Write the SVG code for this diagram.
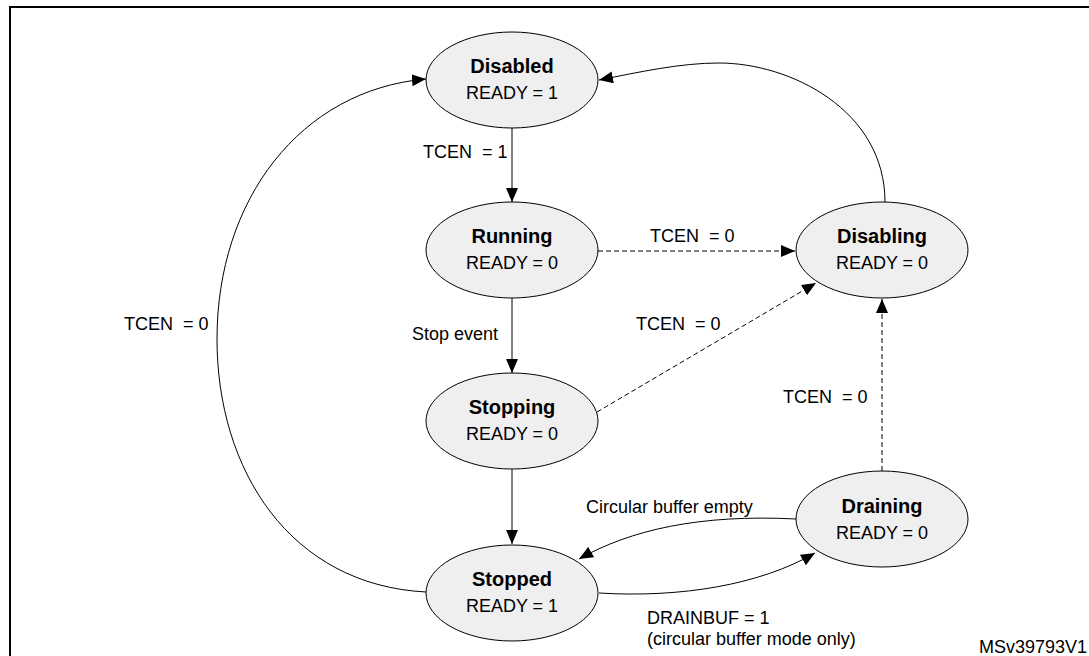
<svg xmlns="http://www.w3.org/2000/svg" width="1089" height="656" viewBox="0 0 1089 656">
<style>
.n{fill:#efefef;stroke:#000;stroke-width:1}
.t{font-family:"Liberation Sans",Arial,sans-serif;font-size:18px;fill:#000}
.b{font-weight:bold;font-size:20px}
.c{fill:none;stroke:#000;stroke-width:1}
.d{stroke-dasharray:5,3}
</style>
<defs><marker id="a" viewBox="0 0 14 12" refX="14" refY="6" markerWidth="14" markerHeight="12" markerUnits="userSpaceOnUse" orient="auto"><path d="M0,0 L14,6 L0,12z"/></marker></defs>
<rect x="10" y="7" width="1100" height="700" fill="#fff" stroke="#000" stroke-width="2"/>
<g id="connectors">
<path class="c" d="M512,128 V202" marker-end="url(#a)"/>
<path class="c" d="M512,298 V373" marker-end="url(#a)"/>
<path class="c" d="M512,469 V544" marker-end="url(#a)"/>
<path class="c d" d="M598,251 H795" marker-end="url(#a)"/>
<path class="c d" d="M597,412 L816,283" marker-end="url(#a)"/>
<path class="c d" d="M882,471 V299" marker-end="url(#a)"/>
<path class="c" d="M796,519 C700,514 630,530 579,559" marker-end="url(#a)"/>
<path class="c" d="M599,593 C680,598 760,585 815,553" marker-end="url(#a)"/>
<path class="c" d="M426,592 C290,585 217,470 217,339 C217,200 300,90 426,79" marker-end="url(#a)"/>
<path class="c" d="M885,202 C885,110 790,63 719,63 C680,63 640,72 599,80" marker-end="url(#a)"/>
</g>
<g id="disabled"><ellipse class="n" cx="512" cy="80" rx="86" ry="48"/><text class="t b" x="512" y="73" text-anchor="middle">Disabled</text><text class="t" x="512" y="99" text-anchor="middle">READY = 1</text></g>
<g id="running"><ellipse class="n" cx="512" cy="250" rx="86" ry="48"/><text class="t b" x="512" y="243" text-anchor="middle">Running</text><text class="t" x="512" y="269" text-anchor="middle">READY = 0</text></g>
<g id="disabling"><ellipse class="n" cx="882" cy="250" rx="86" ry="48"/><text class="t b" x="882" y="243" text-anchor="middle">Disabling</text><text class="t" x="882" y="269" text-anchor="middle">READY = 0</text></g>
<g id="stopping"><ellipse class="n" cx="512" cy="421" rx="86" ry="48"/><text class="t b" x="512" y="414" text-anchor="middle">Stopping</text><text class="t" x="512" y="440" text-anchor="middle">READY = 0</text></g>
<g id="draining"><ellipse class="n" cx="882" cy="519" rx="86" ry="48"/><text class="t b" x="882" y="513" text-anchor="middle">Draining</text><text class="t" x="882" y="539" text-anchor="middle">READY = 0</text></g>
<g id="stopped"><ellipse class="n" cx="512" cy="593" rx="86" ry="48"/><text class="t b" x="512" y="586" text-anchor="middle">Stopped</text><text class="t" x="512" y="612" text-anchor="middle">READY = 1</text></g>
<g id="labels">
<text class="t" x="423" y="158" xml:space="preserve">TCEN  = 1</text>
<text class="t" x="650" y="242" xml:space="preserve">TCEN  = 0</text>
<text class="t" x="412" y="340">Stop event</text>
<text class="t" x="636" y="330" xml:space="preserve">TCEN  = 0</text>
<text class="t" x="783" y="403" xml:space="preserve">TCEN  = 0</text>
<text class="t" x="124" y="330" xml:space="preserve">TCEN  = 0</text>
<text class="t" x="586" y="513">Circular buffer empty</text>
<text class="t" x="647" y="624">DRAINBUF = 1</text>
<text class="t" x="647" y="645">(circular buffer mode only)</text>
<text class="t" x="1087" y="653" text-anchor="end" font-size="16">MSv39793V1</text>
</g>
</svg>
